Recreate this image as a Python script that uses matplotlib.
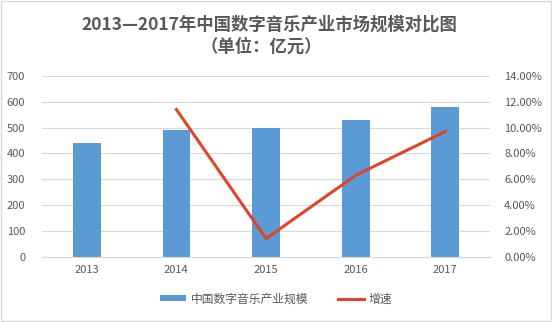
import matplotlib
matplotlib.use("Agg")
import matplotlib.pyplot as plt
from matplotlib.ticker import FuncFormatter, MultipleLocator
from matplotlib.patches import Rectangle
from matplotlib.lines import Line2D
from matplotlib.patches import Patch

plt.rcParams['font.family'] = ['Noto Sans CJK SC', 'DejaVu Sans']

years = ['2013', '2014', '2015', '2016', '2017']
scale = [440, 490, 500, 530, 580]
growth_years = ['2014', '2015', '2016', '2017']
growth = [11.4, 1.4, 6.3, 9.7]

fig = plt.figure(figsize=(5.52, 3.22), dpi=100)
fig.patch.set_facecolor('white')
ax = fig.add_axes([0.076, 0.203, 0.812, 0.561])
ax2 = ax.twinx()

x = list(range(len(years)))
ax.bar(x, scale, width=0.31, color='#5B9BD5', zorder=3)
gx = [years.index(y) for y in growth_years]
ax2.plot(gx, growth, color='#E0452A', linewidth=2.2, zorder=4)

ax.set_xlim(-0.5, 4.5)
ax.set_ylim(0, 700)
ax.yaxis.set_major_locator(MultipleLocator(100))
ax2.set_ylim(0, 14)
ax2.yaxis.set_major_locator(MultipleLocator(2))
ax2.yaxis.set_major_formatter(FuncFormatter(lambda v, p: f"{v:.2f}%"))
ax.set_xticks(x)
ax.set_xticklabels(years)

ax.grid(axis='y', color='#D9D9D9', linewidth=0.8, zorder=0)
ax.set_axisbelow(True)
for a in (ax, ax2):
    for s in ['top', 'left', 'right']:
        a.spines[s].set_visible(False)
    a.spines['bottom'].set_color('#D9D9D9')
    a.tick_params(length=0, colors='#595959', labelsize=8)
ax.tick_params(axis='y', pad=12)
ax2.tick_params(axis='y', pad=10)
ax.tick_params(axis='x', pad=6)
ax.set_zorder(ax2.get_zorder() - 1)
ax2.patch.set_visible(False)
ax.patch.set_visible(False)

fig.text(0.488, 0.925, '2013—2017年中国数字音乐产业市场规模对比图', ha='center', va='center',
         fontsize=12.5, fontweight='bold', color='#595959')
fig.text(0.473, 0.855, '（单位：亿元）', ha='center', va='center',
         fontsize=12.5, fontweight='bold', color='#595959')

handles = [Patch(facecolor='#5B9BD5', edgecolor='none'),
           Line2D([0], [0], color='#E0452A', linewidth=2.2)]
fig.legend(handles, ['中国数字音乐产业规模', '增速'], loc='center', bbox_to_anchor=(0.5, 0.072),
           ncol=2, frameon=False, fontsize=8.5, labelcolor='#595959',
           handlelength=2.2, handleheight=0.5, columnspacing=2.5, handletextpad=0.4)

fig.patches.append(Rectangle((0.002, 0.003), 0.996, 0.994, transform=fig.transFigure,
                             fill=False, edgecolor='#D9D9D9', linewidth=1))

fig.savefig('out.png', dpi=100)
